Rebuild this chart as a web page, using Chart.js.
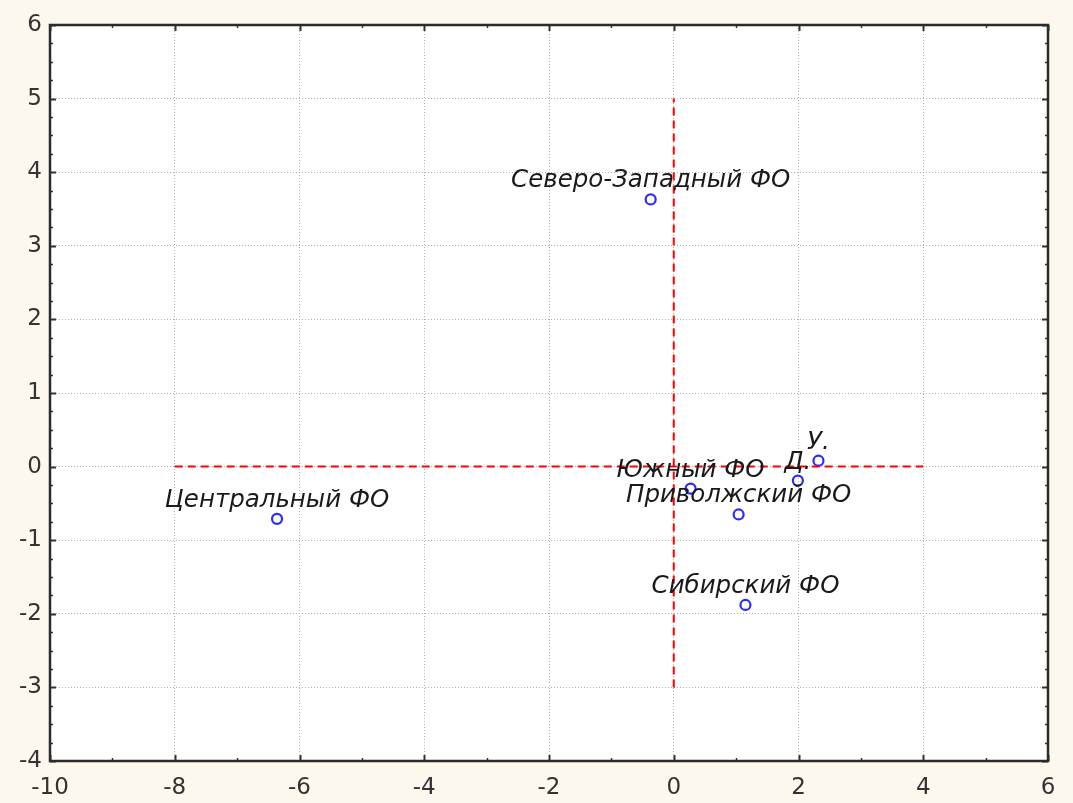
<!DOCTYPE html>
<html>
<head>
<meta charset="utf-8">
<script src="https://cdn.jsdelivr.net/npm/chart.js@4.4.0/dist/chart.umd.min.js"></script>
<style>
  html, body { margin: 0; padding: 0; background: #fcf8ee; }
  #wrap { width: 1073px; height: 803px; position: relative; }
</style>
</head>
<body>
<div id="wrap"><canvas id="chart"></canvas></div>
<script>
// Region names and coordinates
const regionNames = ['Северо-Западный ФО', 'Центральный ФО', 'Южный ФО', 'Приволжский ФО', 'Сибирский ФО', 'Д.', 'У.'];
const regionX = [-0.37, -6.36, 0.27, 1.04, 1.15, 1.99, 2.32];
const regionY = [3.63, -0.71, -0.30, -0.65, -1.88, -0.19, 0.08];

// red dashed cross
const crossHX = [-8, 4];
const crossHY = [0, 0];
const crossVX = [0, 0];
const crossVY = [-3, 5];

// axis ticks
const xTicks = [-10, -8, -6, -4, -2, 0, 2, 4, 6];
const xMinor = [-9, -7, -5, -3, -1, 1, 3, 5];
const yTicks = [-4, -3, -2, -1, 0, 1, 2, 3, 4, 5, 6];
const yMinor = [];
for (let i = -4; i < 6; i++) { yMinor.push(i + 0.25, i + 0.5, i + 0.75); }

const LABEL_FONT = "italic 24.5px 'DejaVu Sans', sans-serif";

// white plot area, inward ticks, frame and point labels
const plotDecor = {
    id: 'plotDecor',
    beforeDraw(chart) {
        const { ctx, chartArea: a } = chart;
        ctx.save();
        ctx.fillStyle = '#ffffff';
        ctx.fillRect(a.left, a.top, a.right - a.left, a.bottom - a.top);
        ctx.restore();
    },
    afterDraw(chart) {
        const { ctx, chartArea: a, scales } = chart;
        ctx.save();
        ctx.strokeStyle = '#333333';
        ctx.lineWidth = 2;
        ctx.beginPath();
        xTicks.forEach(v => {
            const px = Math.round(scales.x.getPixelForValue(v)) + 0.5;
            ctx.moveTo(px, a.bottom); ctx.lineTo(px, a.bottom - 6);
            ctx.moveTo(px, a.top); ctx.lineTo(px, a.top + 6);
        });
        yTicks.forEach(v => {
            const py = Math.round(scales.y.getPixelForValue(v)) + 0.5;
            ctx.moveTo(a.left, py); ctx.lineTo(a.left + 6, py);
            ctx.moveTo(a.right, py); ctx.lineTo(a.right - 6, py);
        });
        ctx.stroke();
        ctx.lineWidth = 1.5;
        ctx.beginPath();
        xMinor.forEach(v => {
            const px = Math.round(scales.x.getPixelForValue(v)) + 0.5;
            ctx.moveTo(px, a.bottom); ctx.lineTo(px, a.bottom - 3);
            ctx.moveTo(px, a.top); ctx.lineTo(px, a.top + 3);
        });
        yMinor.forEach(v => {
            const py = Math.round(scales.y.getPixelForValue(v)) + 0.5;
            ctx.moveTo(a.left, py); ctx.lineTo(a.left + 3, py);
            ctx.moveTo(a.right, py); ctx.lineTo(a.right - 3, py);
        });
        ctx.stroke();

        // frame
        ctx.lineWidth = 2.5;
        ctx.strokeStyle = '#2b2b2b';
        ctx.strokeRect(a.left, a.top, a.right - a.left, a.bottom - a.top);

        // point labels, centred above each marker
        ctx.font = LABEL_FONT;
        ctx.fillStyle = '#1a1a1a';
        ctx.textAlign = 'center';
        ctx.textBaseline = 'alphabetic';
        regionNames.forEach((name, i) => {
            const px = scales.x.getPixelForValue(regionX[i]);
            const py = scales.y.getPixelForValue(regionY[i]);
            ctx.fillText(name, px, py - 12);
        });
        ctx.restore();
    }
};

const ctx = document.getElementById('chart').getContext('2d');
new Chart(ctx, {
    type: 'scatter',
    data: {
        datasets: [
            {
                label: 'horizontal',
                data: crossHX.map((x, i) => ({ x: x, y: crossHY[i] })),
                showLine: true,
                borderColor: '#ff0000',
                borderWidth: 2,
                borderDash: [8, 5],
                pointRadius: 0
            },
            {
                label: 'vertical',
                data: crossVX.map((x, i) => ({ x: x, y: crossVY[i] })),
                showLine: true,
                borderColor: '#ff0000',
                borderWidth: 2,
                borderDash: [8, 5],
                pointRadius: 0
            },
            {
                label: 'regions',
                data: regionX.map((x, i) => ({ x: x, y: regionY[i] })),
                pointRadius: 5,
                pointBorderWidth: 2.2,
                pointBorderColor: '#2a2aff',
                pointBackgroundColor: 'rgba(255,255,255,0)'
            }
        ]
    },
    options: {
        responsive: true,
        maintainAspectRatio: false,
        animation: false,
        layout: { padding: { top: 25, right: 25, left: 0, bottom: 0 } },
        plugins: {
            legend: { display: false },
            tooltip: { enabled: false }
        },
        scales: {
            x: {
                type: 'linear',
                min: -10,
                max: 6,
                afterBuildTicks: s => { s.ticks = xTicks.map(v => ({ value: v })); },
                afterFit: s => { s.height = 42; },
                ticks: {
                    color: '#333333',
                    font: { family: "'DejaVu Sans', sans-serif", size: 23 },
                    padding: 13
                },
                grid: {
                    color: '#b0b0b0',
                    lineWidth: 1,
                    drawTicks: false
                },
                border: { display: false, dash: [1, 2] }
            },
            y: {
                type: 'linear',
                min: -4,
                max: 6,
                afterBuildTicks: s => { s.ticks = yTicks.map(v => ({ value: v })); },
                afterFit: s => { s.width = 50; },
                ticks: {
                    color: '#333333',
                    font: { family: "'DejaVu Sans', sans-serif", size: 23 },
                    padding: 8
                },
                grid: {
                    color: '#b0b0b0',
                    lineWidth: 1,
                    drawTicks: false
                },
                border: { display: false, dash: [1, 2] }
            }
        }
    },
    plugins: [plotDecor]
});
</script>
</body>
</html>
